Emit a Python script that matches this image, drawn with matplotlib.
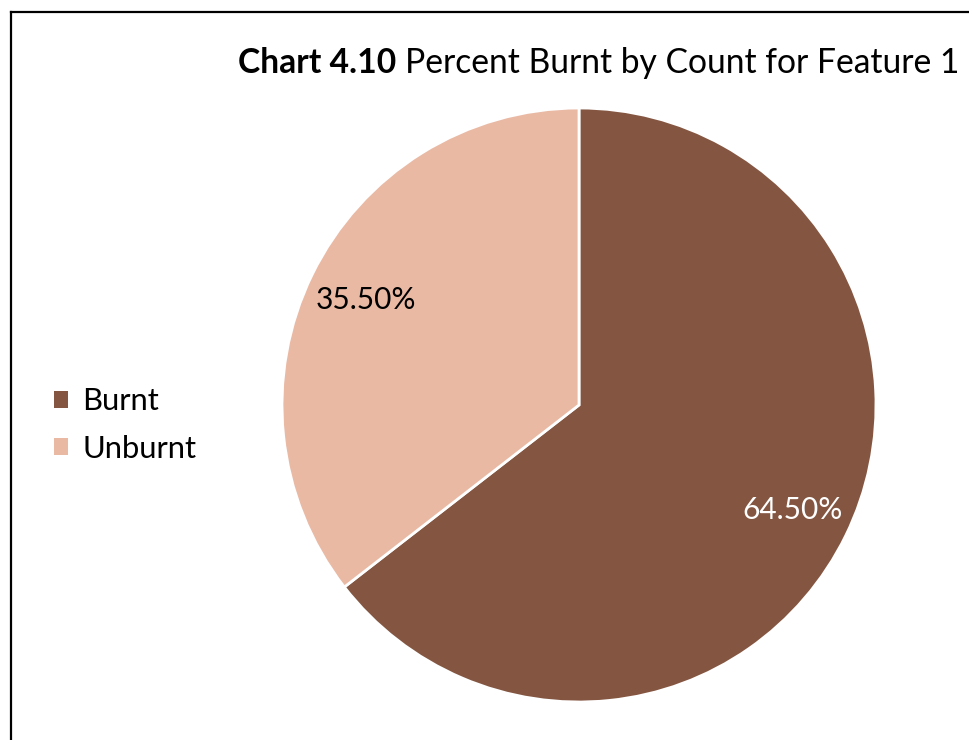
import matplotlib
matplotlib.use("Agg")
import matplotlib.pyplot as plt
from matplotlib.lines import Line2D
from matplotlib.patches import Patch

labels = ["Burnt", "Unburnt"]
values = [64.5, 35.5]
colors = ["#845641", "#E9B9A4"]
label_colors = ["white", "black"]

W, H = 969, 740
fig = plt.figure(figsize=(W / 100, H / 100), dpi=100)
plt.rcParams['font.family'] = ['Lato', 'DejaVu Sans']

# pie axes: center (579, 405), radius 297 px
cx, cy, r = 579, 405, 297
ax = fig.add_axes([(cx - r) / W, 1 - (cy + r) / H, 2 * r / W, 2 * r / H])
wedges, texts, autotexts = ax.pie(
    values, colors=colors, startangle=90, counterclock=False,
    autopct=lambda p: f"{p:.2f}%", pctdistance=0.8,
    wedgeprops=dict(edgecolor="white", linewidth=2),
    textprops=dict(fontsize=21.5))
for t, c in zip(autotexts, label_colors):
    t.set_color(c)
ax.set_xlim(-1, 1)
ax.set_ylim(-1, 1)
ax.set_aspect("auto")
ax.axis("off")

# legend
handles = [Patch(facecolor=c, edgecolor="none") for c in colors]
fig.legend(handles, labels, loc="center left", bbox_to_anchor=(42 / W, 1 - 425 / H),
           frameon=False, fontsize=22.3, handlelength=0.45, handleheight=0.45,
           handletextpad=0.45, labelspacing=0.62, borderaxespad=0, borderpad=0.4)

# title: bold part + regular part
renderer = fig.canvas.get_renderer()
tx, ty = 238, 63
t1 = fig.text(tx / W, 1 - ty / H, "Chart 4.10", fontsize=24.2, fontweight="bold",
              va="center", ha="left")
bb = t1.get_window_extent(renderer)
fig.text((bb.x1 + 9) / W, 1 - ty / H, "Percent Burnt by Count for Feature 1",
         fontsize=24.2, va="center", ha="left")

# border (left and top edges visible)
fig.add_artist(Line2D([11 / W, 11 / W], [0, 1 - 12 / H], color="black", lw=1.6,
                      transform=fig.transFigure))
fig.add_artist(Line2D([11 / W, 1], [1 - 12 / H, 1 - 12 / H], color="black", lw=1.6,
                      transform=fig.transFigure))

fig.savefig("out.png", dpi=100)
